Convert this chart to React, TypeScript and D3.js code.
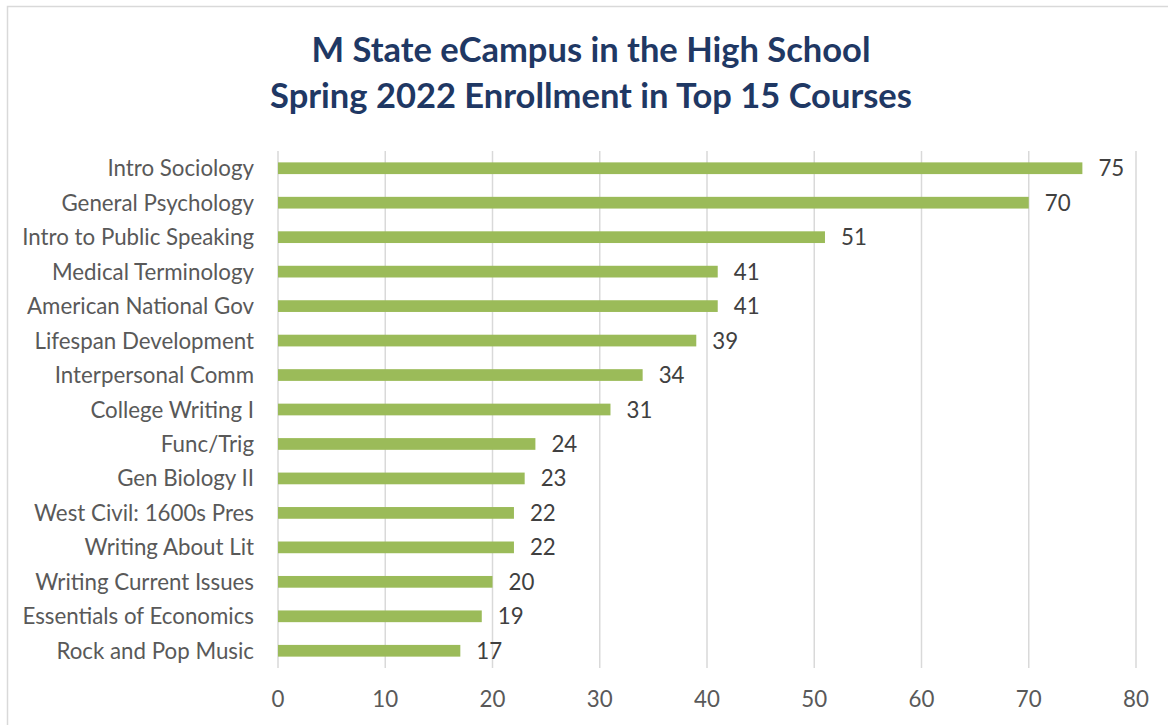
import React, { useEffect, useRef } from 'react';
import * as d3 from 'd3';

// course names, top to bottom
const courses = [
  'Intro Sociology',
  'General Psychology',
  'Intro to Public Speaking',
  'Medical Terminology',
  'American National Gov',
  'Lifespan Development',
  'Interpersonal Comm',
  'College Writing I',
  'Func/Trig',
  'Gen Biology II',
  'West Civil: 1600s Pres',
  'Writing About Lit',
  'Writing Current Issues',
  'Essentials of Economics',
  'Rock and Pop Music',
];

const enrollment = [75, 70, 51, 41, 41, 39, 34, 31, 24, 23, 22, 22, 20, 19, 17];

const xTicks = [0, 10, 20, 30, 40, 50, 60, 70, 80];

const titleLines = [
  'M State eCampus in the High School',
  'Spring 2022 Enrollment in Top 15 Courses',
];

const WIDTH = 1168;
const HEIGHT = 725;
const FONT = 'Lato, "Open Sans", sans-serif';

const App = () => {
  const svgRef = useRef<SVGSVGElement>(null);

  useEffect(() => {
    const svg = d3.select(svgRef.current);
    svg.selectAll('*').remove();

    const left = 278;
    const right = 1136;
    const top = 151;
    const bottom = 668;

    // chart frame (only left/top edges fall inside the picture)
    svg.append('rect')
      .attr('x', 7.5)
      .attr('y', 6.5)
      .attr('width', 1200)
      .attr('height', 800)
      .attr('fill', '#fff')
      .attr('stroke', '#d9d9d9')
      .attr('stroke-width', 1.5);

    // title
    svg.append('g')
      .selectAll('text')
      .data(titleLines)
      .enter()
      .append('text')
      .attr('x', 591)
      .attr('y', (d, i) => 62 + i * 46)
      .attr('text-anchor', 'middle')
      .attr('font-family', FONT)
      .attr('font-weight', 700)
      .attr('font-size', 34.5)
      .attr('fill', '#1f3864')
      .text(d => d);

    const x = d3.scaleLinear().domain([0, 80]).range([left, right]);
    const y = d3.scaleBand<string>()
      .domain(courses)
      .range([top, bottom])
      .paddingInner(0.66)
      .paddingOuter(0.33);

    // vertical gridlines
    svg.append('g')
      .selectAll('line')
      .data(xTicks)
      .enter()
      .append('line')
      .attr('x1', d => x(d))
      .attr('x2', d => x(d))
      .attr('y1', top)
      .attr('y2', bottom)
      .attr('stroke', '#d9d9d9')
      .attr('stroke-width', 1.5);

    // bars
    svg.append('g')
      .selectAll('rect')
      .data(courses)
      .enter()
      .append('rect')
      .attr('x', x(0))
      .attr('y', d => y(d)!)
      .attr('width', (d, i) => x(enrollment[i]) - x(0))
      .attr('height', y.bandwidth())
      .attr('fill', '#9bbb59');

    // category labels
    svg.append('g')
      .selectAll('text')
      .data(courses)
      .enter()
      .append('text')
      .attr('x', 254)
      .attr('y', d => y(d)! + y.bandwidth() / 2)
      .attr('dy', '0.36em')
      .attr('text-anchor', 'end')
      .attr('font-family', FONT)
      .attr('font-size', 22.3)
      .attr('fill', '#595959')
      .text(d => d);

    // value labels
    svg.append('g')
      .selectAll('text')
      .data(courses)
      .enter()
      .append('text')
      .attr('x', (d, i) => x(enrollment[i]) + 16)
      .attr('y', d => y(d)! + y.bandwidth() / 2)
      .attr('dy', '0.36em')
      .attr('font-family', FONT)
      .attr('font-size', 22.3)
      .attr('fill', '#404040')
      .text((d, i) => enrollment[i]);

    // x tick labels
    svg.append('g')
      .selectAll('text')
      .data(xTicks)
      .enter()
      .append('text')
      .attr('x', d => x(d))
      .attr('y', 707)
      .attr('text-anchor', 'middle')
      .attr('font-family', FONT)
      .attr('font-size', 22.3)
      .attr('fill', '#595959')
      .text(d => d);
  }, []);

  return (
    <div style={{ position: 'fixed', left: 0, top: 0 }}>
      <svg ref={svgRef} width={WIDTH} height={HEIGHT} style={{ display: 'block' }}></svg>
    </div>
  );
};

export default App;
